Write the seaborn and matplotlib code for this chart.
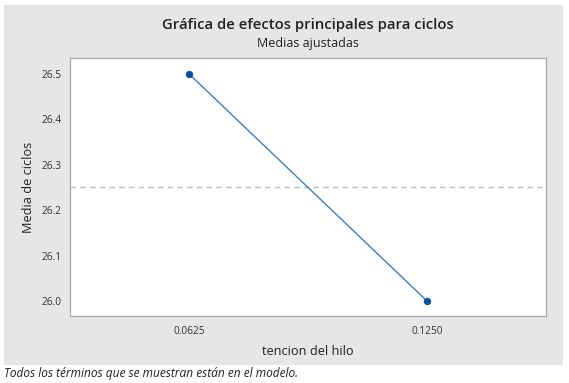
import numpy as np
import pandas as pd
import matplotlib
matplotlib.use('Agg')
import matplotlib.pyplot as plt
from matplotlib.patches import Rectangle
import seaborn as sns

# data
tension = ['0.0625', '0.1250']
media = [26.5, 26.0]
media_global = 26.25
yticks = [26.0, 26.1, 26.2, 26.3, 26.4, 26.5]

df = pd.DataFrame({'tension': tension, 'media': media})

sns.set_style('white')
plt.rcParams['font.family'] = ['Open Sans', 'DejaVu Sans']

W, H = 569, 383
fig = plt.figure(figsize=(W / 100, H / 100), dpi=100, facecolor='white')

# gray background panel
fig.patches.append(Rectangle((4 / W, 1 - 365 / H), (563 - 4) / W, (365 - 5) / H,
                             transform=fig.transFigure, facecolor='#e6e6e6',
                             edgecolor='none', zorder=-10))

ax = fig.add_axes([70 / W, 1 - 316 / H, (546 - 70) / W, (316 - 58) / H])
ax.set_zorder(1)
ax.set_facecolor('white')

ax.axhline(media_global, color='#bdbdbd', lw=1.0, ls=(0, (4, 3)), zorder=1)
sns.lineplot(data=df, x='tension', y='media', color='#3f7fc0', lw=1.0, ax=ax, zorder=2)
sns.scatterplot(data=df, x='tension', y='media', color='#0a4f9c', s=28,
                edgecolor='#0a4f9c', linewidth=0, ax=ax, zorder=3)

ax.set_xlim(-0.5, 1.5)
ax.set_ylim(25.967, 26.535)
ax.set_yticks(yticks)
ax.set_yticklabels([f'{v:.1f}' for v in yticks])

for s in ax.spines.values():
    s.set_color('#a8a8a8')
    s.set_linewidth(0.9)

ax.tick_params(axis='both', which='major', direction='out', length=3, width=0.6,
               color='#a8a8a8', labelsize=7.3, labelcolor='#333333', pad=3)
ax.tick_params(axis='x', pad=4)

ax.set_xlabel('tencion del hilo', fontsize=9.2, color='#222222', labelpad=6)
ax.set_ylabel('Media de ciclos', fontsize=9.2, color='#222222', labelpad=5)

fig.text(308 / W, 1 - 25 / H, 'Gráfica de efectos principales para ciclos',
         ha='center', va='center', fontsize=10.7, fontweight='semibold', color='#222222')
fig.text(308 / W, 1 - 43 / H, 'Medias ajustadas',
         ha='center', va='center', fontsize=9, color='#222222')
fig.text(4 / W, 1 - 373 / H, 'Todos los términos que se muestran están en el modelo.',
         ha='left', va='center', fontsize=8.6, style='italic', color='#222222')

fig.savefig('out.png', dpi=100)
